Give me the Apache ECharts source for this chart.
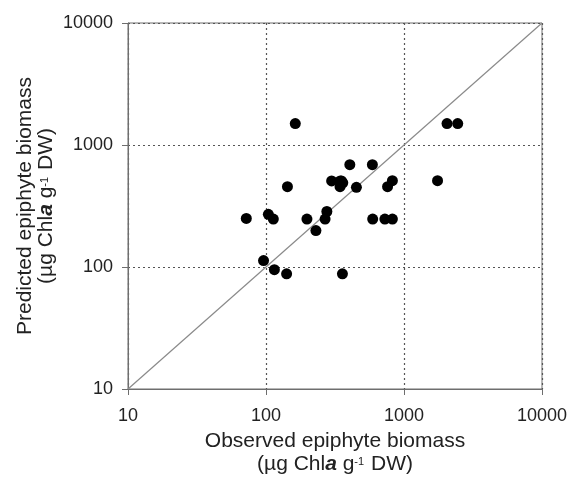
<!DOCTYPE html>
<html>
<head>
<meta charset="utf-8">
<script src="https://cdn.jsdelivr.net/npm/echarts@6/dist/echarts.min.js"></script>
<style>html,body{margin:0;padding:0;background:#fff;}#c{width:578px;height:477px;}</style>
</head>
<body>
<div id="c"></div>
<script>
// Observed (x) and predicted (y) epiphyte biomass, µg Chla g-1 DW
const observed = [72, 96, 104, 113, 115, 141, 143, 163, 198, 230, 268, 276, 299, 345, 352, 360, 344, 452, 405, 590, 358, 593, 727, 824, 760, 824, 1750, 2050, 2450];
const predicted = [250, 113, 270, 247, 95, 88, 455, 1500, 247, 199, 247, 285, 508, 508, 508, 490, 455, 450, 690, 690, 88, 247, 247, 247, 455, 510, 510, 1500, 1500];
const tickValues = [10, 100, 1000, 10000];
const oneToOne = [10, 10000];

const points = observed.map((v, i) => [v, predicted[i]]);
const fontFamily = '"Liberation Sans", Arial, sans-serif';

function richStyles(lh) {
  return {
    t: {fontSize: 21, color: '#222', fontFamily: fontFamily, lineHeight: lh},
    b: {fontSize: 21, color: '#222', fontFamily: fontFamily, fontWeight: 'bold', fontStyle: 'italic', lineHeight: lh},
    s: {fontSize: 11, color: '#222', fontFamily: fontFamily, verticalAlign: 'top', lineHeight: 11, padding: [3, 1, 0, 0]}
  };
}

const chart = echarts.init(document.getElementById('c'), null, {renderer: 'canvas'});
const axisCommon = {
  type: 'log', logBase: 10, min: tickValues[0], max: tickValues[tickValues.length - 1],
  axisLine: {show: true, lineStyle: {color: '#6e6e6e', width: 1}},
  axisTick: {show: true, inside: false, length: 6, lineStyle: {color: '#6e6e6e'}},
  minorTick: {show: false},
  splitLine: {show: true, lineStyle: {color: '#555', type: [2, 3], width: 1.2}},
  axisLabel: {color: '#222', fontSize: 18, fontFamily: fontFamily, formatter: v => String(v)},
  nameMoveOverlap: false
};
chart.setOption({
  animation: false,
  backgroundColor: '#fff',
  grid: {left: 128, right: 36, top: 23, bottom: 88, show: true, borderColor: '#6e6e6e', borderWidth: 1,
         containLabel: false, outerBoundsMode: 'none'},
  xAxis: Object.assign({}, axisCommon, {
    axisLabel: Object.assign({}, axisCommon.axisLabel, {margin: 18}),
    name: '{t|Observed epiphyte biomass}\n{t|(µg Chl}{b|a}{t| g}{s|-1}{t| DW)}',
    nameLocation: 'middle', nameGap: 41,
    nameTextStyle: {color: '#222', fontFamily: fontFamily, rich: richStyles(23)}
  }),
  yAxis: Object.assign({}, axisCommon, {
    axisLabel: Object.assign({}, axisCommon.axisLabel, {margin: 15}),
    name: '{t|Predicted epiphyte biomass}\n{t|(µg Chl}{b|a}{t| g}{s|-1}{t| DW)}',
    nameLocation: 'middle', nameGap: 71, nameRotate: 90,
    nameTextStyle: {color: '#222', fontFamily: fontFamily, rich: richStyles(21)}
  }),
  series: [
    {
      type: 'line', data: [[oneToOne[0], oneToOne[0]], [oneToOne[1], oneToOne[1]]],
      symbol: 'none', lineStyle: {color: '#8a8a8a', width: 1.2}, silent: true, z: 1
    },
    {
      type: 'scatter', data: points, symbol: 'circle', symbolSize: 11,
      itemStyle: {color: '#000', opacity: 1}, z: 3
    }
  ]
});
</script>
</body>
</html>
